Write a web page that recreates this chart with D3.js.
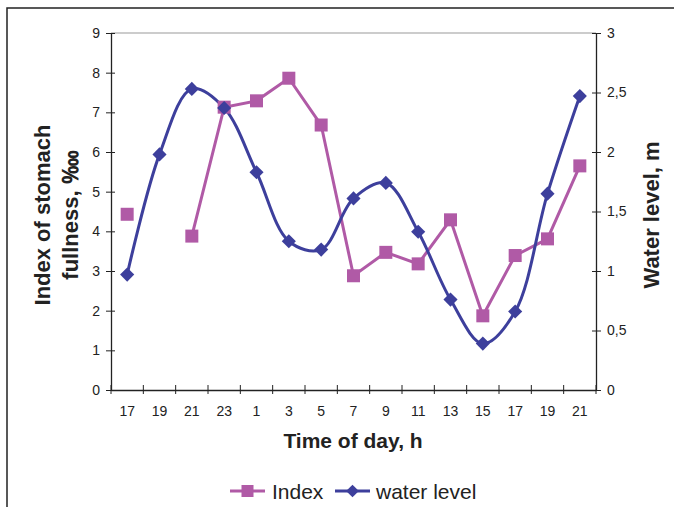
<!DOCTYPE html>
<html><head><meta charset="utf-8">
<script src="https://cdn.jsdelivr.net/npm/d3@7"></script>
<style>body{margin:0;background:#fff;} text{font-family:Arial,"Liberation Sans",sans-serif;}</style>
</head><body>
<svg id="c" width="674" height="507"></svg>
<script>
const hours = ["17","19","21","23","1","3","5","7","9","11","13","15","17","19","21"];
const indexValues = [4.43, null, 3.88, 7.13, 7.29, 7.86, 6.68, 2.88, 3.47, 3.18, 4.29, 1.87, 3.39, 3.81, 5.65];
const waterLevel = [0.97, 1.98, 2.53, 2.37, 1.83, 1.25, 1.18, 1.61, 1.74, 1.33, 0.76, 0.39, 0.66, 1.65, 2.47];
const leftTicks = [0,1,2,3,4,5,6,7,8,9];
const rightTicks = [0,0.5,1,1.5,2,2.5,3];
const rightTickLabels = ["0","0,5","1","1,5","2","2,5","3"];

const svg = d3.select("#c");
const L = 111, R = 596, T = 33, B = 390;
const pink = "#B05AA6", blue = "#3D3F9C";

svg.append("rect").attr("x",7).attr("y",8).attr("width",700).attr("height",520)
  .attr("fill","none").attr("stroke","#222").attr("stroke-width",1.5);

const cats = hours.map((h,i)=>i);
const x = d3.scaleBand().domain(cats).range([L,R]);
const yL = d3.scaleLinear().domain([0,9]).range([B,T]);
const yR = d3.scaleLinear().domain([0,3]).range([B,T]);

// top gridline
svg.append("line").attr("x1",L).attr("x2",R).attr("y1",yL(9)).attr("y2",yL(9)).attr("stroke","#999").attr("stroke-width",1);

// left axis
const gl = svg.append("g").attr("transform",`translate(${L},0)`)
  .call(d3.axisLeft(yL).tickValues(leftTicks).tickSize(5).tickSizeOuter(0).tickPadding(6));
gl.selectAll(".tick line").attr("x2",4).attr("x1",-5);
// right axis
const gr = svg.append("g").attr("transform",`translate(${R},0)`)
  .call(d3.axisRight(yR).tickValues(rightTicks).tickFormat((d,i)=>rightTickLabels[i]).tickSize(5).tickSizeOuter(0).tickPadding(6));
gr.selectAll(".tick line").attr("x1",-4).attr("x2",5);
// bottom axis
const bandTicks = d3.range(hours.length+1).map(i=> L + i*x.step());
const gb = svg.append("g").attr("transform",`translate(0,${B})`)
  .call(d3.axisBottom(x).tickFormat(i=>hours[i]).tickSize(0).tickSizeOuter(0).tickPadding(16));
gb.selectAll(".tick line").remove();
gb.selectAll(".xt").data(bandTicks).enter().append("line").attr("class","xt")
  .attr("x1",d=>d).attr("x2",d=>d).attr("y1",-5).attr("y2",4).attr("stroke","#222");

[gl,gr,gb].forEach(g=>{
  g.select(".domain").attr("stroke","#222").attr("stroke-width",1.3);
  g.selectAll(".tick line").attr("stroke","#222");
  g.selectAll("text").attr("font-size",14).attr("fill","#222").attr("font-family","Arial, Liberation Sans, sans-serif");
});
gb.selectAll(".xt").attr("stroke","#222");

const cx = i => x(i) + x.bandwidth()/2;

// index line
const lineI = d3.line().defined(d=>d!=null).x((d,i)=>cx(i)).y(d=>yL(d));
svg.append("path").datum(indexValues).attr("d",lineI).attr("fill","none").attr("stroke",pink).attr("stroke-width",3);
// water line smoothed
const lineW = d3.line().x((d,i)=>cx(i)).y(d=>yR(d)).curve(d3.curveCatmullRom.alpha(0.5));
svg.append("path").datum(waterLevel).attr("d",lineW).attr("fill","none").attr("stroke",blue).attr("stroke-width",3);

const sq = 13, dm = 10;
svg.selectAll(".sq").data(indexValues.map((v,i)=>({v,i})).filter(d=>d.v!=null)).enter().append("rect")
  .attr("x",d=>cx(d.i)-sq/2).attr("y",d=>yL(d.v)-sq/2).attr("width",sq).attr("height",sq).attr("fill",pink);
svg.selectAll(".dm").data(waterLevel).enter().append("rect")
  .attr("x",-dm/2).attr("y",-dm/2).attr("width",dm).attr("height",dm).attr("fill",blue)
  .attr("transform",(d,i)=>`translate(${cx(i)},${yR(d)}) rotate(45)`);

// titles
svg.append("text").attr("x",353).attr("y",448).attr("text-anchor","middle").attr("font-size",21).attr("font-weight","bold").attr("fill","#222").text("Time of day, h");
const lt = svg.append("text").attr("transform","translate(0,215) rotate(-90)").attr("text-anchor","middle").attr("font-size",22).attr("font-weight","bold").attr("fill","#222");
lt.append("tspan").attr("x",0).attr("y",50).text("Index of stomach");
lt.append("tspan").attr("x",0).attr("y",78).text("fullness, ‱");
svg.append("text").attr("transform","translate(659,215) rotate(-90)").attr("text-anchor","middle").attr("font-size",22).attr("font-weight","bold").attr("fill","#222").text("Water level, m");

// legend
const ly = 491;
svg.append("line").attr("x1",230).attr("x2",265).attr("y1",ly).attr("y2",ly).attr("stroke",pink).attr("stroke-width",3);
svg.append("rect").attr("x",247.5-6).attr("y",ly-6).attr("width",12).attr("height",12).attr("fill",pink);
svg.append("text").attr("x",272).attr("y",ly+8).attr("font-size",21).attr("fill","#222").text("Index");
svg.append("line").attr("x1",335).attr("x2",370).attr("y1",ly).attr("y2",ly).attr("stroke",blue).attr("stroke-width",3);
svg.append("rect").attr("x",-4.5).attr("y",-4.5).attr("width",9).attr("height",9).attr("fill",blue).attr("transform",`translate(352.5,${ly}) rotate(45)`);
svg.append("text").attr("x",376).attr("y",ly+8).attr("font-size",21).attr("fill","#222").text("water level");
</script>
</body></html>
